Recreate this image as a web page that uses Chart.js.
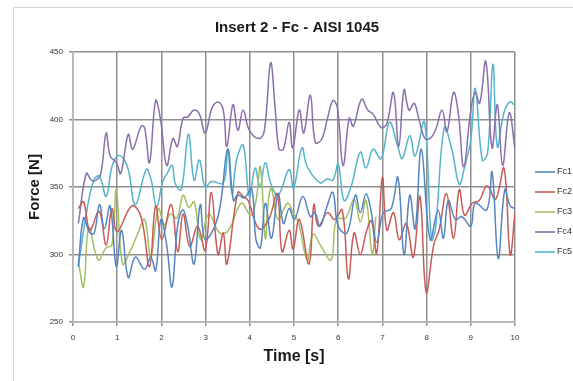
<!DOCTYPE html>
<html>
<head>
<meta charset="utf-8">
<script src="https://cdn.jsdelivr.net/npm/chart.js@4.4.1/dist/chart.umd.min.js"></script>
<style>
  html, body { margin: 0; padding: 0; background: #fff; }
  #wrap { position: relative; width: 573px; height: 381px; }
</style>
</head>
<body>
<div id="wrap"><canvas id="forceChart" width="573" height="381"></canvas></div>
<script>
// Fc1..Fc5 (time in s, force in N)
const fc1Time = [0.12,0.24,0.38,0.48,0.6,0.71,0.84,0.98,1.1,1.25,1.41,1.62,1.76,1.87,1.99,2.12,2.24,2.37,2.49,2.6,2.74,2.88,2.99,3.28,3.5,3.63,3.73,3.88,4.04,4.14,4.24,4.35,4.49,4.64,4.76,4.89,5.01,5.2,5.37,5.47,5.59,5.74,5.88,6.0,6.2,6.39,6.5,6.63,6.75,6.87,7.02,7.2,7.35,7.49,7.62,7.74,7.88,8.08,8.26,8.38,8.49,8.65,8.8,9.0,9.1,9.36,9.48,9.62,9.77,9.89,10];
const fc1Force = [291,327,316,316,337,319,336,291,318,283,298,289,298,288,326,307,276,322,333,320,293,337,311,328,378,340,344,342,349,311,305,338,312,345,323,334,326,343,328,331,321,335,346,321,316,344,331,345,331,309,331,334,357,300,344,319,378,311,333,312,340,326,328,321,338,333,361,297,348,336,334];

const fc2Time = [0.12,0.24,0.38,0.59,0.75,0.88,1.0,1.33,1.54,1.73,1.87,2.01,2.22,2.37,2.49,2.64,2.82,2.99,3.13,3.28,3.4,3.48,3.73,3.85,3.96,4.21,4.43,4.62,4.73,4.89,4.98,5.12,5.34,5.45,5.55,5.76,5.92,6.09,6.23,6.36,6.5,6.63,6.75,6.87,7.0,7.1,7.25,7.38,7.54,7.7,7.85,7.99,8.16,8.28,8.45,8.61,8.74,8.86,9.03,9.19,9.37,9.56,9.75,9.89,10];
const fc2Force = [334,339,318,332,307,334,317,336,328,291,336,311,337,302,330,306,321,303,346,300,316,293,346,343,340,319,326,345,302,318,304,326,293,337,321,331,326,333,282,316,300,316,325,301,357,318,331,311,323,298,343,272,307,318,345,312,348,329,338,340,351,341,364,300,331];

const fc3Time = [0.12,0.24,0.36,0.57,0.75,0.88,0.98,1.12,1.3,1.46,1.62,1.76,1.93,2.07,2.2,2.35,2.49,2.62,2.74,2.89,3.07,3.32,3.52,3.81,4.02,4.14,4.24,4.35,4.42,4.49,4.64,4.85,4.98,5.1,5.3,5.43,5.63,5.84,5.96,6.17,6.36,6.5,6.63,6.77,6.85];
const fc3Force = [295,276,320,296,305,307,348,293,303,315,326,298,334,322,330,327,344,335,339,311,330,316,318,338,329,340,365,312,340,349,326,338,331,324,296,315,305,296,326,327,341,324,340,300,328];

const fc4Time = [0.12,0.3,0.42,0.52,0.63,0.75,0.84,0.98,1.08,1.25,1.35,1.54,1.62,1.73,1.87,1.98,2.12,2.26,2.36,2.49,2.6,2.74,2.86,2.99,3.15,3.28,3.4,3.48,3.62,3.73,3.85,3.99,4.21,4.33,4.47,4.57,4.66,4.76,4.89,4.97,5.12,5.22,5.37,5.48,5.62,5.76,5.88,5.98,6.11,6.25,6.34,6.53,6.67,6.79,6.97,7.1,7.25,7.37,7.49,7.6,7.72,7.82,7.96,8.08,8.2,8.35,8.46,8.61,8.72,8.84,9.0,9.1,9.2,9.34,9.48,9.6,9.72,9.87,10];
const fc4Force = [323,360,355,355,360,390,373,368,360,389,378,395,394,368,414,400,366,386,380,401,402,407,404,390,409,413,407,380,411,392,407,392,386,392,442,410,378,378,398,379,407,390,418,383,385,401,414,409,366,401,395,415,407,404,394,397,420,380,422,407,412,401,386,386,392,407,391,420,404,365,407,420,412,443,379,411,366,405,378];

const fc5Time = [0.12,0.3,0.47,0.6,0.75,0.88,1.0,1.12,1.25,1.41,1.66,1.77,1.89,2.03,2.13,2.24,2.32,2.45,2.61,2.74,2.86,2.99,3.13,3.4,3.5,3.6,3.7,3.85,3.99,4.12,4.23,4.35,4.47,4.64,4.89,4.99,5.18,5.3,5.59,5.75,5.88,6.0,6.13,6.29,6.5,6.63,6.79,6.97,7.16,7.35,7.45,7.62,7.74,7.95,8.11,8.2,8.4,8.57,8.74,8.86,9.0,9.1,9.26,9.38,9.5,9.6,9.75,9.89,10];
const fc5Force = [291,330,355,358,343,365,373,372,363,337,363,355,335,354,360,366,352,348,389,355,370,350,354,353,378,345,370,381,343,364,350,368,353,344,363,349,379,365,353,356,355,367,340,350,376,364,378,371,398,380,371,388,373,398,311,319,394,378,352,365,385,423,370,375,441,380,405,413,410];

const seriesNames = ['Fc1', 'Fc2', 'Fc3', 'Fc4', 'Fc5'];
const seriesColors = ['#5585c0', '#c85a57', '#a2c063', '#8a6fab', '#55b4cc'];
const times = [fc1Time, fc2Time, fc3Time, fc4Time, fc5Time];
const forces = [fc1Force, fc2Force, fc3Force, fc4Force, fc5Force];

function points(t, f) {
    const n = Math.min(t.length, f.length);
    const out = [];
    for (let i = 0; i < n; i++) out.push({ x: t[i], y: f[i] });
    return out;
}

const datasets = seriesNames.map((name, i) => ({
    label: name,
    data: points(times[i], forces[i]),
    borderColor: seriesColors[i],
    borderWidth: 1.5,
    pointRadius: 0,
    tension: 0.4,
    fill: false
}));

// frame, title and legend drawn by hand (Excel style)
const excelBits = {
    id: 'excelBits',
    beforeDraw(chart) {
        const ctx = chart.ctx;
        ctx.save();
        ctx.fillStyle = '#fff';
        ctx.fillRect(0, 0, chart.width, chart.height);
        ctx.strokeStyle = '#d4d4d4';
        ctx.lineWidth = 1;
        ctx.strokeRect(13.5, 7.5, 700, 500);
        ctx.restore();
    },
    afterDraw(chart) {
        const ctx = chart.ctx;
        const area = chart.chartArea;
        ctx.save();
        ctx.fillStyle = '#1a1a1a';
        ctx.font = 'bold 15px "Liberation Sans", Arial, sans-serif';
        ctx.textAlign = 'center';
        ctx.textBaseline = 'middle';
        ctx.fillText('Insert 2 - Fc - AISI 1045', (area.left + area.right) / 2 + 3, 28);

        ctx.font = '9px "Liberation Sans", Arial, sans-serif';
        ctx.textAlign = 'left';
        chart.data.datasets.forEach((ds, i) => {
            const y = 172 + i * 20;
            ctx.strokeStyle = ds.borderColor;
            ctx.lineWidth = 1.6;
            ctx.beginPath();
            ctx.moveTo(535, y);
            ctx.lineTo(555, y);
            ctx.stroke();
            ctx.fillStyle = '#333';
            ctx.fillText(ds.label, 557, y);
        });
        ctx.restore();
    }
};

const config = {
    type: 'line',
    data: { datasets: datasets },
    options: {
        responsive: false,
        animation: false,
        layout: { padding: { left: 26, top: 52, right: 58, bottom: 15 } },
        plugins: {
            legend: { display: false },
            title: { display: false },
            tooltip: { enabled: false }
        },
        scales: {
            x: {
                type: 'linear',
                min: 0,
                max: 10,
                ticks: { stepSize: 1, color: '#333', font: { size: 8, family: 'Liberation Sans' }, padding: 7 },
                grid: { color: '#8f8f8f', lineWidth: 1.5, tickLength: 4 },
                border: { color: '#b5b5b5', width: 1.5 },
                title: {
                    display: true,
                    text: 'Time [s]',
                    color: '#1a1a1a',
                    font: { size: 16, weight: 'bold', family: 'Liberation Sans' },
                    padding: { top: 4, bottom: 0 }
                },
                afterFit(scale) { scale.height = 44; }
            },
            y: {
                min: 250,
                max: 450,
                ticks: { stepSize: 50, color: '#333', font: { size: 8, family: 'Liberation Sans' }, padding: 6 },
                grid: { color: '#8f8f8f', lineWidth: 1.5, tickLength: 4 },
                border: { color: '#b5b5b5', width: 1.5 },
                title: {
                    display: true,
                    text: 'Force [N]',
                    color: '#1a1a1a',
                    font: { size: 15, weight: 'bold', family: 'Liberation Sans' },
                    padding: 0
                },
                afterFit(scale) { scale.width = 47; }
            }
        }
    },
    plugins: [excelBits]
};

new Chart(document.getElementById('forceChart').getContext('2d'), config);
</script>
</body>
</html>
